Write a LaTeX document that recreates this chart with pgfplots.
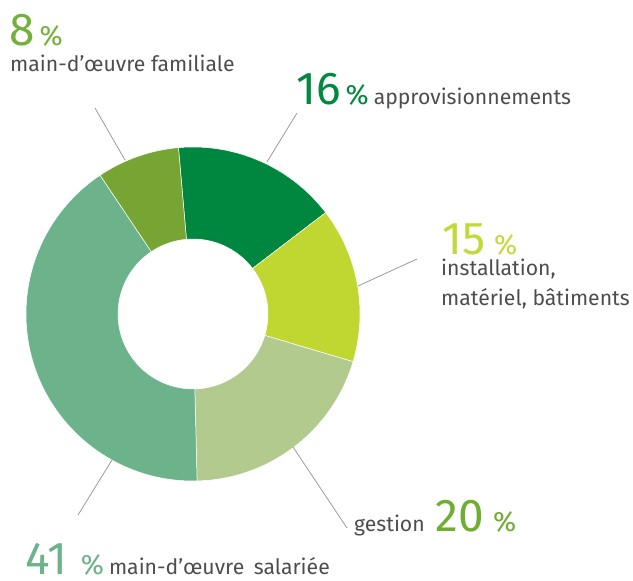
\documentclass[border=0pt]{standalone}
\usepackage{pgfplots}
\pgfplotsset{compat=1.18}
\usepackage{pgfplotstable}
\usepackage{fontspec}
\setmainfont{Fira Sans}

% segment colours, in drawing order (clockwise from the top)
\definecolor{seg0}{HTML}{00873F}
\definecolor{seg1}{HTML}{BFD730}
\definecolor{seg2}{HTML}{B2CA8E}
\definecolor{seg3}{HTML}{6CB28A}
\definecolor{seg4}{HTML}{77A534}
\definecolor{txtgray}{HTML}{4D4D4D}
\definecolor{linegray}{HTML}{9A9A9A}
\definecolor{num8}{HTML}{74B03C}
\definecolor{num16}{HTML}{00893F}
\definecolor{num15}{HTML}{C3D93A}
\definecolor{num20}{HTML}{6FAD33}
\definecolor{num41}{HTML}{6CB38A}

\newcommand\numfont{\fontsize{46}{46}\selectfont}
\newcommand\pctfont{\fontsize{28}{28}\selectfont}
\newcommand\txtfont{\fontsize{21.2}{24}\selectfont}

% shares in %, clockwise starting at 95 degrees
\pgfplotstableread{
share
16
15
20
41
8
}\donutdata

\begin{document}
\begin{tikzpicture}
\begin{axis}[
    name=ax,
    x=1pt, y=1pt,
    xmin=0, xmax=633, ymin=0, ymax=581,
    hide axis,
    clip=false,
]
\def\cx{193}\def\cy{267}
\def\rout{167}\def\rin{75}
\gdef\angA{95}
\pgfplotsforeachungrouped \i in {0,...,4}{
    \pgfplotstablegetelem{\i}{share}\of\donutdata
    \pgfmathsetmacro\angB{\angA-3.6*\pgfplotsretval}
    \edef\temp{\noexpand\fill[seg\i, draw=white, line width=0.5pt]
        (axis cs:{\cx+\rin*cos(\angA)},{\cy+\rin*sin(\angA)})
        -- (axis cs:{\cx+\rout*cos(\angA)},{\cy+\rout*sin(\angA)})
        arc[start angle=\angA, end angle=\angB, radius=\rout pt]
        -- (axis cs:{\cx+\rin*cos(\angB)},{\cy+\rin*sin(\angB)})
        arc[start angle=\angB, end angle=\angA, radius=\rin pt]
        -- cycle;}
    \temp
    \global\let\angA\angB
}

% leader lines
\addplot[linegray, line width=0.8pt] coordinates {(95,473) (125,421)};
\addplot[linegray, line width=0.8pt] coordinates {(297,468) (267,419)};
\addplot[linegray, line width=0.8pt] coordinates {(358,295) (417,322)};
\addplot[linegray, line width=0.8pt] coordinates {(293,134) (347,53)};
\addplot[linegray, line width=0.8pt] coordinates {(112,121) (78,66)};

% labels
\node[anchor=base west, inner sep=0pt] at (axis cs:9,535)
    {{\numfont\color{num8}8}\hspace{5pt}{\pctfont\color{num8}\%}};
\node[anchor=base west, inner sep=0pt, text=txtgray] at (axis cs:10,509)
    {\txtfont main-d’œuvre familiale};

\node[anchor=base west, inner sep=0pt] at (axis cs:296,476)
    {{\numfont\color{num16}16}\hspace{5pt}{\pctfont\color{num16}\%}\hspace{5pt}{\txtfont\color{txtgray}approvisionnements}};

\node[anchor=base west, inner sep=0pt] at (axis cs:442,326.5)
    {{\numfont\color{num15}15}\hspace{9pt}{\pctfont\color{num15}\%}};
\node[anchor=base west, inner sep=0pt, text=txtgray] at (axis cs:441,305)
    {\txtfont installation,};
\node[anchor=base west, inner sep=0pt, text=txtgray] at (axis cs:441,275)
    {\txtfont matériel, bâtiments};

\node[anchor=base west, inner sep=0pt] at (axis cs:354,49)
    {{\txtfont\color{txtgray}gestion}\hspace{11pt}{\numfont\color{num20}20}\hspace{9pt}{\pctfont\color{num20}\%}};

\node[anchor=base west, inner sep=0pt] at (axis cs:25,6)
    {{\numfont\color{num41}41}\hspace{14pt}{\pctfont\color{num41}\%}\hspace{5pt}{\txtfont\color{txtgray}main-d’œuvre\hspace{4pt} salariée}};
\end{axis}
\pgfresetboundingbox
\path (ax.south west) rectangle (ax.north east);
\end{tikzpicture}
\end{document}
